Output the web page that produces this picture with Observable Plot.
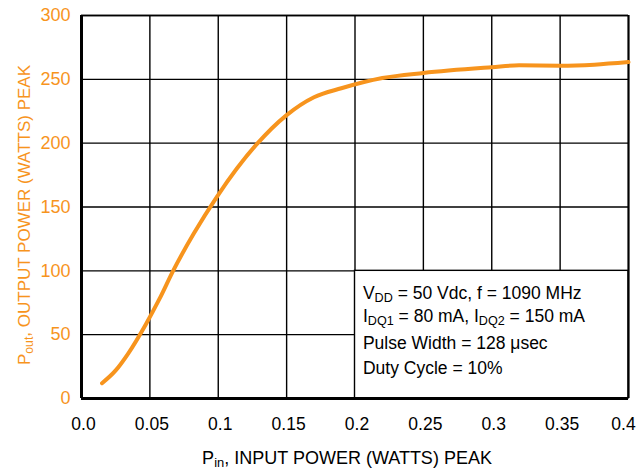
<!DOCTYPE html>
<html>
<head>
<meta charset="utf-8">
<script src="https://cdn.jsdelivr.net/npm/d3@7"></script>
<script src="https://cdn.jsdelivr.net/npm/@observablehq/plot@0.6"></script>
<style>
  body { margin: 0; background: #fff; }
  #chart { width: 636px; height: 470px; }
</style>
</head>
<body>
<div id="chart"></div>
<script>
// ---- data ----
const pin  = [0.015, 0.025, 0.034, 0.047, 0.057, 0.067, 0.082, 0.099, 0.128, 0.15, 0.17, 0.19, 0.22, 0.25, 0.3, 0.32, 0.35, 0.375, 0.4];
const pout = [12, 22, 35, 58, 78, 100, 129, 158, 199, 222, 236, 243, 251, 255, 259.5, 261, 260.7, 261.5, 263.5];
const xTicks = [0, 0.05, 0.1, 0.15, 0.2, 0.25, 0.3, 0.35, 0.4];
const xTickLabels = ["0.0", "0.05", "0.1", "0.15", "0.2", "0.25", "0.3", "0.35", "0.4"];
const yTicks = [0, 50, 100, 150, 200, 250, 300];
const noteLines = ["V_{DD} = 50 Vdc, f = 1090 MHz", "I_{DQ1} = 80 mA, I_{DQ2} = 150 mA", "Pulse Width = 128 \u03bcsec", "Duty Cycle = 10%"];
const noteY = [78, 59.8, 38.5, 19.5];
const noteBox = [{x1: 0.2, x2: 0.4, y1: 0, y2: 100}];
const xLabel = "P_{in}, INPUT POWER (WATTS) PEAK";
const yLabel = "P_{out}, OUTPUT POWER (WATTS) PEAK";

const ORANGE = "#f7941d";
const data = pin.map((x, i) => ({x, y: pout[i]}));
const notes = noteLines.map((t, i) => ({t, y: noteY[i]}));
const xt = xTicks.map((x, i) => ({x, label: xTickLabels[i]}));

// write "A_{b}" strings as text with subscript tspans
function subscriptify(sel) {
  sel.each(function() {
    const el = d3.select(this);
    const s = el.text();
    el.text(null);
    const parts = s.split(/(_\{[^}]*\})/);
    let sub = false;
    for (const p of parts) {
      if (!p) continue;
      if (p.startsWith("_{")) {
        el.append("tspan").attr("font-size", "0.72em").attr("dy", "0.25em").text(p.slice(2, -1));
        sub = true;
      } else {
        const t = el.append("tspan").text(p);
        if (sub) { t.attr("dy", "-0.18em"); sub = false; }
      }
    }
  });
}
function subRender(index, scales, values, dims, context, next) {
  const g = next(index, scales, values, dims, context);
  subscriptify(d3.select(g).selectAll("text"));
  return g;
}

const chart = Plot.plot({
  width: 636,
  height: 470,
  marginLeft: 81,
  marginRight: 8,
  marginTop: 15,
  marginBottom: 72,
  style: {fontFamily: "'Liberation Sans', Arial, sans-serif", background: "#fff"},
  x: {domain: [0, 0.4], axis: null},
  y: {domain: [0, 300], axis: null},
  marks: [
    Plot.gridX(xTicks, {stroke: "#000", strokeOpacity: 1, strokeWidth: 1.4}),
    Plot.gridY(yTicks, {stroke: "#000", strokeOpacity: 1, strokeWidth: 1.4}),
    Plot.rect(noteBox, {x1: "x1", x2: "x2", y1: "y1", y2: "y2", fill: "#fff", stroke: "#000", strokeWidth: 1.4}),
    Plot.ruleX([0.4], {stroke: "#000", strokeWidth: 2}),
    Plot.ruleY([300], {stroke: "#000", strokeWidth: 1.6}),
    Plot.ruleX([0], {stroke: "#000", strokeWidth: 3}),
    Plot.ruleY([0], {stroke: "#000", strokeWidth: 3}),
    Plot.line(data, {x: "x", y: "y", stroke: ORANGE, strokeWidth: 4, curve: "monotone-x"}),
    // x tick labels
    Plot.text(xt.slice(0, -1), {x: "x", text: "label", frameAnchor: "bottom", lineAnchor: "top", dy: 19, dx: 2, fontSize: 17.5, fill: "#000"}),
    Plot.text(xt.slice(-1), {x: "x", text: "label", frameAnchor: "bottom", lineAnchor: "top", dy: 19, dx: -5, fontSize: 17.5, fill: "#000"}),
    Plot.axisY(yTicks, {tickSize: 0, tickPadding: 11, fontSize: 18, fill: ORANGE, label: null}),
    Plot.text(notes, {x: () => 0.2058, y: "y", text: "t", textAnchor: "start", lineAnchor: "bottom", fontSize: 17.5, fill: "#000", render: subRender}),
    Plot.text([xLabel], {frameAnchor: "bottom", textAnchor: "middle", lineAnchor: "bottom", dy: 65, dx: -8, fontSize: 18, fill: "#000", render: subRender}),
    Plot.text([yLabel], {frameAnchor: "left", textAnchor: "middle", rotate: -90, lineAnchor: "bottom", dx: -52, dy: 8, fontSize: 17, fill: ORANGE, render: subRender})
  ]
});
document.getElementById("chart").append(chart);
</script>
</body>
</html>
